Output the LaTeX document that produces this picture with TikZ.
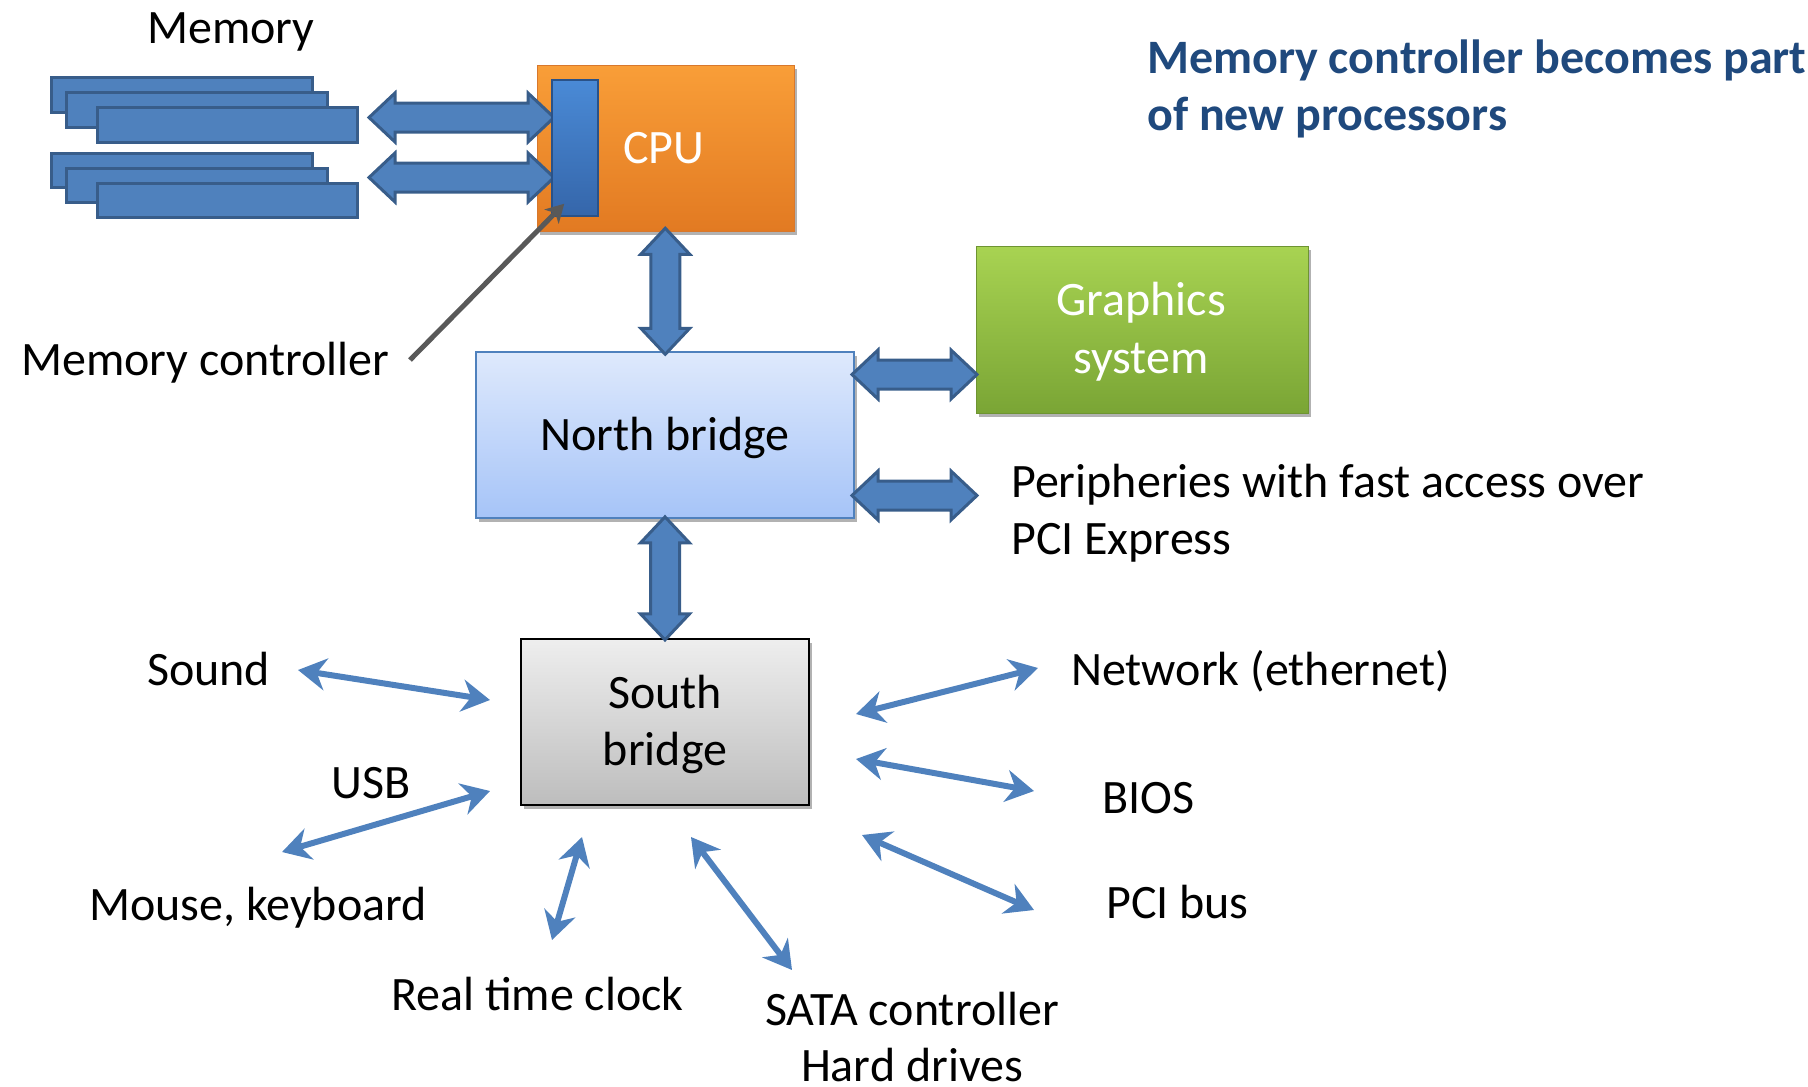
\documentclass[tikz,border=0pt]{standalone}
\usepackage{fontspec}
\setmainfont{Carlito}
\usetikzlibrary{arrows.meta,shadows,calc}
\definecolor{blu}{HTML}{4F81BD}
\definecolor{bluedge}{HTML}{385D8A}
\definecolor{titleblue}{HTML}{1F497D}
\definecolor{grayarrow}{HTML}{595959}
\definecolor{cputop}{HTML}{F99E38}
\definecolor{cpubot}{HTML}{E27A22}
\definecolor{cpuedge}{HTML}{D8782C}
\definecolor{mctop}{HTML}{4A8AD6}
\definecolor{mcbot}{HTML}{3566AA}
\definecolor{gtop}{HTML}{A8D352}
\definecolor{gbot}{HTML}{7AA535}
\definecolor{gedge}{HTML}{6E9432}
\definecolor{nbtop}{HTML}{DEE9FC}
\definecolor{nbbot}{HTML}{A6C4F8}
\definecolor{sbtop}{HTML}{EEEEEE}
\definecolor{sbbot}{HTML}{BDBDBD}
\begin{document}
\begin{tikzpicture}[x=1pt,y=-1pt,
  txt/.style={font=\fontsize{48}{58}\selectfont, inner sep=0pt, text=black},
  wtxt/.style={txt, text=white},
  memmod/.style={fill=blu, draw=bluedge, line width=3pt},
  boxshadow/.style={drop shadow={shadow xshift=3pt, shadow yshift=-4pt, opacity=0.3, fill=black}},
  blockarrowstyle/.style={fill=blu, draw=bluedge, line width=3pt, line join=miter},
  dblarrow/.pic={
    \path[blockarrowstyle]
      ({-#1/2},0) -- ({-#1/2+26},-24.5) -- ({-#1/2+26},-14.5) -- ({#1/2-26},-14.5)
      -- ({#1/2-26},-24.5) -- ({#1/2},0) -- ({#1/2-26},24.5) -- ({#1/2-26},14.5)
      -- ({-#1/2+26},14.5) -- ({-#1/2+26},24.5) -- cycle;
  },
  thinarrow/.style={draw=blu, line width=6pt,
     {Stealth[length=28pt,width=32pt,inset=9pt]}-{Stealth[length=28pt,width=32pt,inset=9pt]}},
]
\useasboundingbox (0,0) rectangle (1808,1087);

% memory modules
\draw[memmod] (51,77) rectangle (312,112);
\draw[memmod] (66,92) rectangle (327,127);
\draw[memmod] (97,107) rectangle (357,142);
\draw[memmod] (51,153) rectangle (312,187);
\draw[memmod] (66,168) rectangle (327,202);
\draw[memmod] (97,183) rectangle (357,217);
\node[txt, anchor=base] (memlbl) at (231,43) {Memory};

% CPU
\node[boxshadow, draw=cpuedge, line width=1pt, top color=cputop, bottom color=cpubot,
      minimum width=257pt, minimum height=166pt, inner sep=0pt] (cpu) at (665.5,148) {};
\node[wtxt, anchor=base] (cpulbl) at (664,163) {CPU};

% memory bus arrows
\pic (ma1) at (461.5,117.5) {dblarrow=185};
\pic (ma2) at (461.5,177.5) {dblarrow=185};

% memory controller bar
\node[draw=mcbot!80!black, line width=1.5pt, top color=mctop, bottom color=mcbot,
      minimum width=46pt, minimum height=136pt, inner sep=0pt] (mc) at (575,148) {};

% North bridge
\node[boxshadow, draw=blu, line width=2pt, top color=nbtop, bottom color=nbbot,
      minimum width=378pt, minimum height=166pt, inner sep=0pt] (nb) at (665,435) {};
\node[txt, anchor=base] (nblbl) at (665,450) {North bridge};

% Graphics
\node[boxshadow, draw=gedge, line width=1pt, top color=gtop, bottom color=gbot,
      minimum width=332pt, minimum height=167pt, inner sep=0pt] (gfx) at (1142,329.5) {};
\node[wtxt, anchor=base] (gfxl1) at (1141,315) {Graphics};
\node[wtxt, anchor=base] (gfxl2) at (1141,373) {system};

% South bridge
\node[boxshadow, draw=black, line width=2.5pt, top color=sbtop, bottom color=sbbot,
      minimum width=288pt, minimum height=166pt, inner sep=0pt] (sb) at (665,722) {};
\node[txt, anchor=base] (sbl1) at (665,708) {South};
\node[txt, anchor=base] (sbl2) at (665,765) {bridge};

% block arrows
\pic[rotate=90] (a1) at ($(cpu.south)!0.5!(nb.north)$) {dblarrow=126};
\pic[rotate=90] (a2) at ($(nb.south)!0.5!(sb.north)$) {dblarrow=123};
\pic (a3) at (914.5,374.5) {dblarrow=125};
\pic (a4) at (914.5,495.5) {dblarrow=125};

% text labels
\node[txt, anchor=base west] (mclbl) at (21,375) {Memory controller};
\node[txt, anchor=base west] (per1) at (1011,497) {Peripheries with fast access over};
\node[txt, anchor=base west] (per2) at (1011,554) {PCI Express};
\node[txt, anchor=base west] (snd) at (147,685) {Sound};
\node[txt, anchor=base west] (usb) at (331,798) {USB};
\node[txt, anchor=base west] (mouse) at (89,920) {Mouse, keyboard};
\node[txt, anchor=base west] (rtc) at (391,1010) {Real time clock};
\node[txt, anchor=base] (sata1) at (912,1025) {SATA controller};
\node[txt, anchor=base] (sata2) at (912,1081) {Hard drives};
\node[txt, anchor=base west] (net) at (1071,685) {Network (ethernet)};
\node[txt, anchor=base west] (bios) at (1102,813) {BIOS};
\node[txt, anchor=base west] (pci) at (1106,918) {PCI bus};
\node[txt, anchor=base west, text=titleblue, font=\fontsize{48}{58}\selectfont\bfseries] (t1) at (1147,73) {Memory controller becomes part};
\node[txt, anchor=base west, text=titleblue, font=\fontsize{48}{58}\selectfont\bfseries] (t2) at (1147,130) {of new processors};

% pointer to memory controller
\coordinate (mcstart) at (410,360);
\coordinate (mctip) at ($(mc.south west)+(13,-13)$);
\draw[grayarrow, line width=5pt, -{Stealth[length=18pt,width=20pt,inset=5pt]}] (mcstart) -- (mctip);

% thin arrows around south bridge
\coordinate (sndA) at (298,670);  \coordinate (sndB) at (490,700);
\coordinate (usbA) at (490,791);  \coordinate (usbB) at (282,852);
\coordinate (rtcA) at (582,837);  \coordinate (rtcB) at (552,940);
\coordinate (sataA) at (691,837); \coordinate (sataB) at (792,970);
\coordinate (netA) at (856,714);  \coordinate (netB) at (1038,668);
\coordinate (biosA) at (856,759); \coordinate (biosB) at (1034,791);
\coordinate (pciA) at (862,835);  \coordinate (pciB) at (1034,910);
\draw[thinarrow] (sndA) -- (sndB);
\draw[thinarrow] (usbA) -- (usbB);
\draw[thinarrow] (rtcA) -- (rtcB);
\draw[thinarrow] (sataA) -- (sataB);
\draw[thinarrow] (netA) -- (netB);
\draw[thinarrow] (biosA) -- (biosB);
\draw[thinarrow] (pciA) -- (pciB);
\end{tikzpicture}
\end{document}
